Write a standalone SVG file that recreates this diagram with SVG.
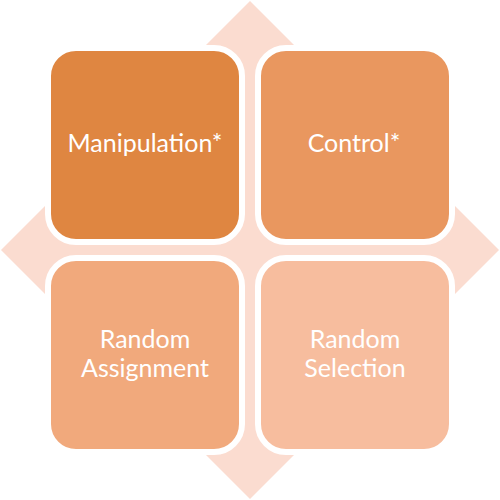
<svg xmlns="http://www.w3.org/2000/svg" width="500" height="500" viewBox="0 0 500 500">
  <style>
    .box { stroke: #FFFFFF; stroke-width: 6; }
    .lbl { font-family: "Lato", "Liberation Sans", sans-serif; font-size: 25px; fill: #FFFFFF; text-anchor: middle; }
  </style>
  <rect width="500" height="500" fill="#FFFFFF"/>
  <g id="connectors">
    <polygon points="250,1 499,250 250,499 1,250" fill="#FBDCD0"/>
  </g>
  <g id="manipulation">
    <rect class="box" x="48" y="48" width="194" height="194" rx="28" fill="#DF8641"/>
    <text class="lbl" x="145" y="152">Manipulation*</text>
  </g>
  <g id="control">
    <rect class="box" x="258" y="48" width="194" height="194" rx="28" fill="#E9975F"/>
    <text class="lbl" x="354" y="152">Control*</text>
  </g>
  <g id="random-assignment">
    <rect class="box" x="48" y="258" width="194" height="194" rx="28" fill="#F1A97C"/>
    <text class="lbl" x="145" y="348">Random</text>
    <text class="lbl" x="145" y="377">Assignment</text>
  </g>
  <g id="random-selection">
    <rect class="box" x="258" y="258" width="194" height="194" rx="28" fill="#F7BD9E"/>
    <text class="lbl" x="355" y="348">Random</text>
    <text class="lbl" x="355" y="377">Selection</text>
  </g>
</svg>
